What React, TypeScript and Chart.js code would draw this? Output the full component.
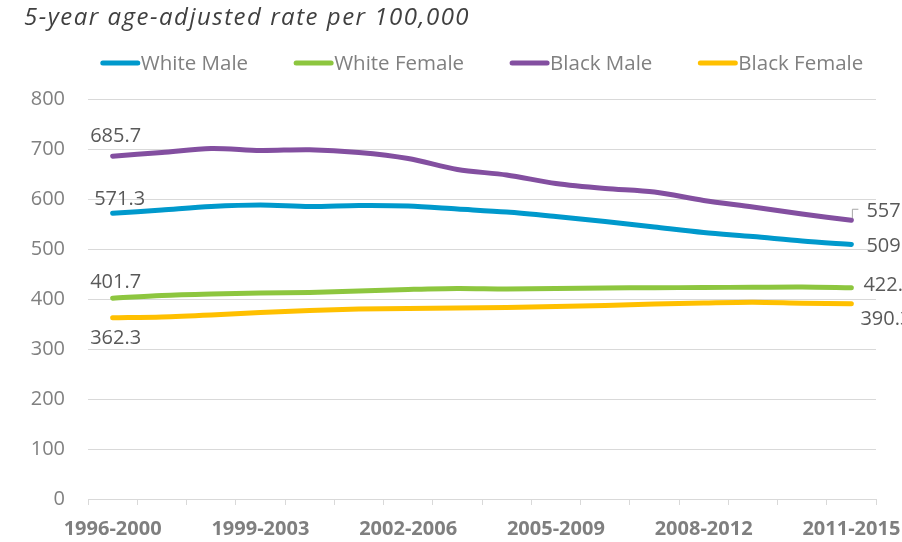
import React, { useEffect, useRef } from "react";
import { Chart, registerables } from "chart.js";

Chart.register(...registerables);

const titleText = "5-year age-adjusted rate per 100,000";

const categories = [
  "1996-2000", "1997-2001", "1998-2002", "1999-2003", "2000-2004", "2001-2005",
  "2002-2006", "2003-2007", "2004-2008", "2005-2009", "2006-2010", "2007-2011",
  "2008-2012", "2009-2013", "2010-2014", "2011-2015",
];

const seriesNames = ["White Male", "White Female", "Black Male", "Black Female"];

const whiteMale = [571.3, 578, 585, 588, 585, 587, 586, 580, 574, 565, 555, 544, 533, 525, 516, 509.1];
const whiteFemale = [401.7, 407, 410, 412, 413, 416, 419, 421, 420, 421, 422, 422.5, 423, 423.5, 424, 422.3];
const blackMale = [685.7, 693, 701, 697, 698.5, 693, 681, 659, 648, 631, 621, 614, 597, 584, 570, 557.5];
const blackFemale = [362.3, 364, 368, 373, 377, 380, 381, 382, 383, 385, 387, 390, 392, 393.5, 391.5, 390.3];

const yTicks = [0, 100, 200, 300, 400, 500, 600, 700, 800];

const seriesColors = ["#0099CC", "#8DC63F", "#834FA0", "#FFC000"];

// label offsets (first label centered, last label left-aligned), relative to the point
const firstLabelOffsets = [[7, -14], [3, -16], [3, -20], [3, 20]];
const lastLabelOffsets = [[15, 2], [12, -3], [15, -9], [9, 15]];

const FONT = '"Open Sans", "DejaVu Sans", sans-serif';

const overlayPlugin = {
  id: "overlay",
  afterDraw(chart: any) {
    const ctx = chart.ctx as CanvasRenderingContext2D;
    const area = chart.chartArea;
    ctx.save();
    // title
    ctx.font = `italic 24px ${FONT}`;
    (ctx as any).letterSpacing = "1.5px";
    ctx.fillStyle = "#404040";
    ctx.textAlign = "left";
    ctx.textBaseline = "middle";
    ctx.fillText(titleText, 24, 18);
    (ctx as any).letterSpacing = "0px";

    // legend
    ctx.font = `20.5px ${FONT}`;
    const lineLen = 35;
    const gapText = 3;
    const gapItems = 48;
    const widths = seriesNames.map((n) => lineLen + gapText + ctx.measureText(n).width);
    const total = widths.reduce((a, b) => a + b, 0) + gapItems * (seriesNames.length - 1);
    let x = (area.left + area.right) / 2 - total / 2 + 1;
    const ly = 63;
    seriesNames.forEach((n, i) => {
      ctx.strokeStyle = seriesColors[i];
      ctx.lineWidth = 5;
      ctx.lineCap = "round";
      ctx.beginPath();
      ctx.moveTo(x, ly);
      ctx.lineTo(x + lineLen, ly);
      ctx.stroke();
      ctx.fillStyle = "#808080";
      ctx.textAlign = "left";
      ctx.textBaseline = "middle";
      ctx.fillText(n, x + lineLen + gapText, ly + 1);
      x += widths[i] + gapItems;
    });

    // data labels
    ctx.font = `20px ${FONT}`;
    ctx.fillStyle = "#595959";
    ctx.textBaseline = "middle";
    chart.data.datasets.forEach((ds: any, i: number) => {
      const meta = chart.getDatasetMeta(i);
      const pts = meta.data;
      const first = pts[0];
      const last = pts[pts.length - 1];
      const fv = ds.data[0];
      const lv = ds.data[ds.data.length - 1];
      ctx.textAlign = "center";
      ctx.fillText(fv.toFixed(1), first.x + firstLabelOffsets[i][0], first.y + firstLabelOffsets[i][1]);
      ctx.textAlign = "left";
      ctx.fillText(lv.toFixed(1), last.x + lastLabelOffsets[i][0], last.y + lastLabelOffsets[i][1]);
      if (i === 2) {
        ctx.strokeStyle = "#a6a6a6";
        ctx.lineWidth = 1;
        ctx.lineCap = "butt";
        ctx.beginPath();
        ctx.moveTo(last.x + 1, last.y - 2);
        ctx.lineTo(last.x + 1, last.y - 11);
        ctx.lineTo(last.x + 7, last.y - 11);
        ctx.stroke();
      }
    });
    ctx.restore();
  },
};

export default function App() {
  const ref = useRef<HTMLCanvasElement>(null);
  useEffect(() => {
    if (!ref.current) return;
    const data = [whiteMale, whiteFemale, blackMale, blackFemale];
    const chart = new Chart(ref.current, {
      type: "line",
      data: {
        labels: categories,
        datasets: seriesNames.map((n, i) => ({
          label: n,
          data: data[i],
          borderColor: seriesColors[i],
          backgroundColor: seriesColors[i],
          borderWidth: 5,
          borderCapStyle: "round" as const,
          borderJoinStyle: "round" as const,
          pointRadius: 0,
          pointHoverRadius: 0,
          tension: 0.3,
          fill: false,
        })),
      },
      options: {
        animation: false,
        responsive: false,
        maintainAspectRatio: false,
        layout: { padding: { left: 0, right: 26, top: 99, bottom: 0 } },
        plugins: {
          legend: { display: false },
          title: { display: false },
          tooltip: { enabled: false },
        },
        scales: {
          x: {
            type: "category",
            offset: true,
            afterFit: (s: any) => {
              s.height = 43;
              s.paddingLeft = 0;
              s.paddingRight = 0;
            },
            grid: {
              drawOnChartArea: false,
              drawTicks: true,
              tickLength: 6,
              offset: true,
              color: "#d9d9d9",
            },
            border: { display: true, color: "#d9d9d9" },
            ticks: {
              autoSkip: false,
              maxRotation: 0,
              minRotation: 0,
              padding: 12,
              color: "#7f7f7f",
              font: { family: FONT, size: 20, weight: "bold" },
              callback: (_v: any, i: number) => (i % 3 === 0 ? categories[i] : ""),
            },
          },
          y: {
            min: 0,
            max: 800,
            afterFit: (s: any) => {
              s.width = 88;
              s.paddingTop = 0;
              s.paddingBottom = 0;
            },
            afterBuildTicks: (s: any) => { s.ticks = yTicks.map((v) => ({ value: v })); },
            grid: { color: "#d9d9d9", drawTicks: false, lineWidth: 1 },
            border: { display: false },
            ticks: {
              padding: 23,
              color: "#808080",
              font: { family: FONT, size: 20 },
            },
          },
        },
      },
      plugins: [overlayPlugin],
    });
    return () => chart.destroy();
  }, []);
  return (
    <div style={{ position: "fixed", left: 0, top: 0, width: 902, height: 542, background: "#fff" }}>
      <canvas ref={ref} width={902} height={542} style={{ width: 902, height: 542, display: "block" }} />
    </div>
  );
}
